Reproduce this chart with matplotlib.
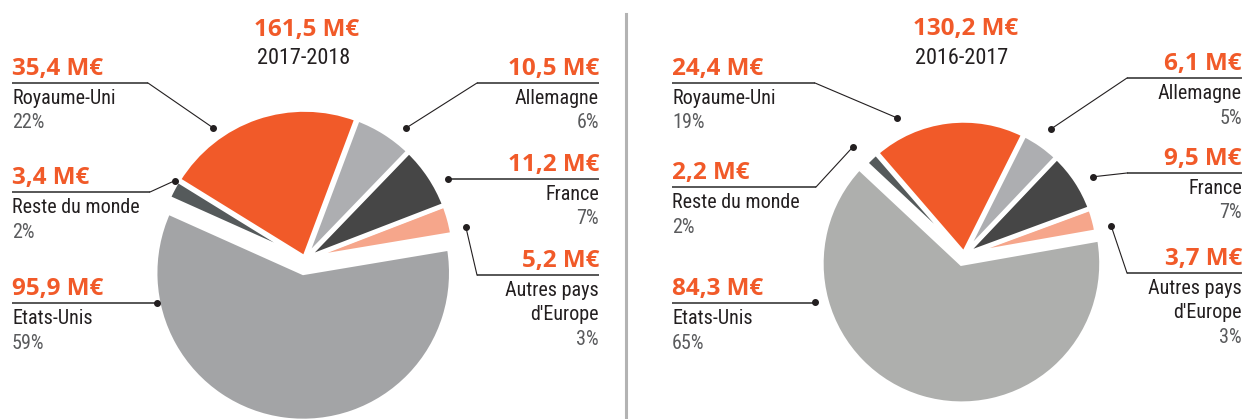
import numpy as np
import matplotlib.pyplot as plt
from matplotlib import font_manager

W, H = 1244, 419

### données (M€ et %)
pays = ["Autres pays\nd'Europe", "France", "Allemagne", "Royaume-Uni", "Reste du monde", "Etats-Unis"]
montants_1718 = [5.2, 11.2, 10.5, 35.4, 3.4, 95.9]
pourcents_1718 = [3, 7, 6, 22, 2, 59]
total_1718 = 161.5
montants_1617 = [3.7, 9.5, 6.1, 24.4, 2.2, 84.3]
pourcents_1617 = [3, 7, 5, 19, 2, 65]
total_1617 = 130.2
saisons = ["2017-2018", "2016-2017"]

ORANGE = '#f15a29'
NOIR = '#231f20'
GRIS_TXT = '#5a5b5d'


### choix d'une police qui a vraiment le poids voulu (pas de police variable)
def choix_police(poids, *noms):
    fichiers = font_manager.fontManager.ttflist
    for n in noms:
        for f in fichiers:
            w = f.weight if isinstance(f.weight, int) else 400
            if f.name == n and w == poids and '[' not in f.fname:
                return n, poids
    return 'DejaVu Sans', poids


police_val, poids_val = choix_police(700, 'Montserrat', 'Open Sans', 'Lato', 'Roboto')
police_txt, poids_txt = choix_police(400, 'Liberation Sans Narrow', 'Roboto Condensed', 'Liberation Sans')


def euros(v):
    return f"{v:.1f}".replace('.', ',') + " M€"


fig = plt.figure(figsize=(W / 100, H / 100), dpi=100)
ax = fig.add_axes([0, 0, 1, 1])


### camembert (coordonnées en pixels, y vers le bas converti)
def camembert(montants, cx, cy, r, start, gris_us, expl_us, r_us):
    couleurs = ['#f6a68b', '#464646', '#adaeb1', ORANGE, '#555a5b', gris_us]
    wedges, _ = ax.pie(montants, colors=couleurs, startangle=start, counterclock=True,
                       center=(cx, H - cy), radius=r, explode=[1.5] * 5 + [expl_us],
                       wedgeprops=dict(edgecolor='white', linewidth=3.2), frame=True)
    wedges[-1].set_radius(r_us)


### étiquette avec trait et point
def etiquette(valeur, nom, pct, cote, x_txt, y_ligne, x_coude, cx, cy, ang, dist):
    ha = 'left' if cote == 'g' else 'right'
    ax.text(x_txt, H - (y_ligne - 8), euros(valeur), ha=ha, va='baseline', color=ORANGE,
            fontsize=17.5, fontweight=poids_val, family=police_val)
    lignes = nom.split('\n') + [f"{pct}%"]
    for i, l in enumerate(lignes):
        ax.text(x_txt, H - (y_ligne + 21 + 24.5 * i), l, ha=ha, va='baseline',
                color=GRIS_TXT if i == len(lignes) - 1 else NOIR, fontsize=14.5,
                fontweight=poids_txt, family=police_txt)
    dx = cx + dist * np.cos(np.radians(ang))
    dy = H - cy + dist * np.sin(np.radians(ang))
    if x_coude is None:
        x_coude = dx
    ax.plot([x_txt, x_coude], [H - y_ligne] * 2, color='#3a3a3a', lw=1.2, solid_capstyle='butt')
    ax.plot([x_coude, dx], [H - y_ligne, dy], color=NOIR, lw=0.8)
    ax.plot([dx], [dy], 'o', color=NOIR, ms=4)


# 2017-2018
cx1, cy1 = 305, 259
camembert(montants_1718, cx1, cy1, 148, 9.5, '#a3a4a6', 14, 148)
ax.text(307, H - 36, euros(total_1718), ha='center', va='baseline', color=ORANGE,
        fontsize=17.5, fontweight=poids_val, family=police_val)
ax.text(304, H - 64, saisons[0], ha='center', va='baseline', color=NOIR, fontsize=16,
        fontweight=poids_txt, family=police_txt)
pos1 = [('d', 599, 275, 477, 11.2, 164), ('d', 599, 179, None, 29.2, 164), ('d', 599, 83, 477, 52.4, 165),
        ('g', 12, 83, 148, 125, 160), ('g', 12, 192, 150, 149, 152), ('g', 12, 303, None, 196.6, 154)]
for n, v, p, (c, xt, yl, xc, a, d) in zip(pays, montants_1718, pourcents_1718, pos1):
    etiquette(v, n, p, c, xt, yl, xc, cx1, cy1, a, d)

# 2016-2017
cx2, cy2 = 964, 255
camembert(montants_1617, cx2, cy2, 133, 10, '#aeafad', 9, 140)
ax.text(966, H - 35, euros(total_1617), ha='center', va='baseline', color=ORANGE,
        fontsize=17.5, fontweight=poids_val, family=police_val)
ax.text(962, H - 64, saisons[1], ha='center', va='baseline', color=NOIR, fontsize=16,
        fontweight=poids_txt, family=police_txt)
pos2 = [('d', 1242, 273, 1127, 11.2, 150), ('d', 1242, 173, 1127, 31.2, 151), ('d', 1242, 78, 1127, 55.4, 153),
        ('g', 672, 83, 815, 116, 152.5), ('g', 672, 187, 816, 135.8, 155), ('g', 672, 303, None, 197.5, 156)]
for n, v, p, (c, xt, yl, xc, a, d) in zip(pays, montants_1617, pourcents_1617, pos2):
    etiquette(v, n, p, c, xt, yl, xc, cx2, cy2, a, d)

# séparateur
ax.plot([626, 626], [0, H - 14], color='#b3b3b3', lw=2.2)

ax.set_xlim(0, W)
ax.set_ylim(0, H)
ax.set_aspect('auto')
ax.axis('off')
fig.savefig('out.png', dpi=100)
